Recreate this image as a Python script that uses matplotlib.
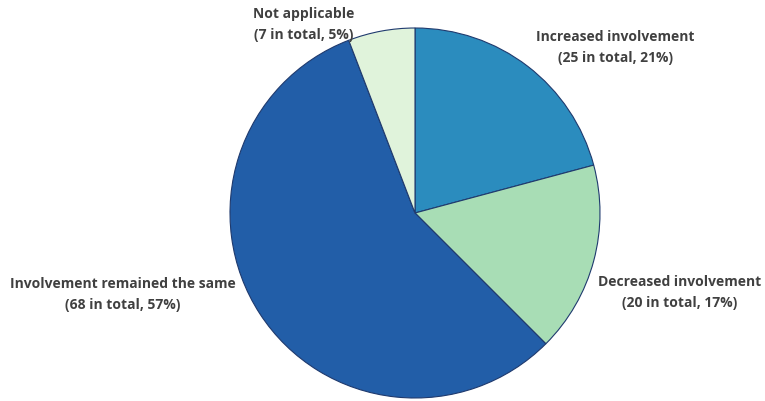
import matplotlib.pyplot as plt

labels = ["Increased involvement", "Decreased involvement",
          "Involvement remained the same", "Not applicable"]
counts = [25, 20, 68, 7]
percents = [21, 17, 57, 5]
colors = ["#2b8cbe", "#a8ddb5", "#225ea8", "#e0f3db"]

fig = plt.figure(figsize=(7.65, 4.01), dpi=100)
ax = fig.add_axes([230 / 765, 3 / 401, 370 / 765, 370 / 401])
ax.pie(counts, colors=colors, startangle=90, counterclock=False,
       wedgeprops=dict(edgecolor="#1f3a6e", linewidth=0.8))
ax.set_xlim(-1, 1)
ax.set_ylim(-1, 1)
ax.set_aspect("equal")

# label positions in data units (pie radius = 1)
label_pos = [(1.085, 0.895), (1.43, -0.43), (-1.58, -0.44), (-0.60, 1.02)]
for lab, n, p, (x, y) in zip(labels, counts, percents, label_pos):
    ax.text(x, y, f"{lab}\n({n} in total, {p}%)", ha="center", va="center",
            fontsize=10, fontweight="bold", color="#404040",
            family="Open Sans", linespacing=1.6, clip_on=False)

fig.savefig("out.png", dpi=100)
